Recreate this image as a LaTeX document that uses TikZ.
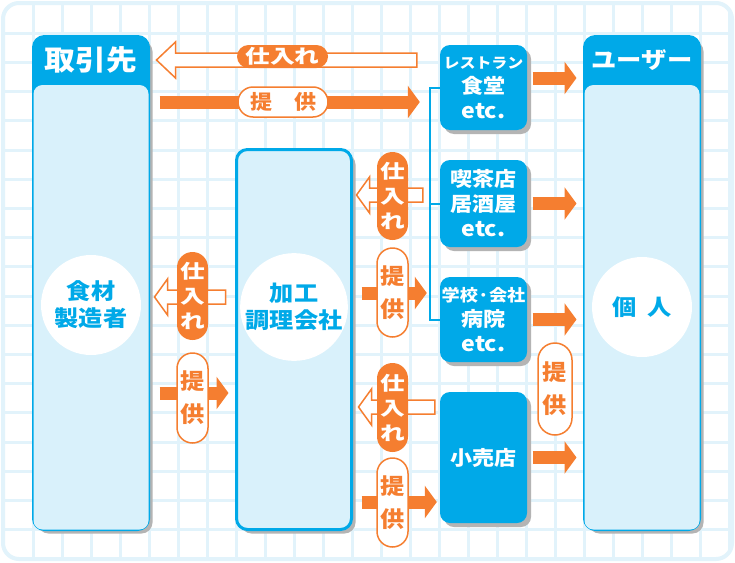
\documentclass[tikz,border=0pt]{standalone}
\usepackage{fontspec}
\setmainfont{Noto Sans CJK JP}[FakeStretch=1.1]
\newfontfamily\widefont{Noto Sans CJK JP}[FakeStretch=1.3]
\usetikzlibrary{arrows.meta,calc,positioning,shadows}

\definecolor{tblue}{RGB}{0,169,232}
\definecolor{pale}{RGB}{217,241,251}
\definecolor{orng}{RGB}{245,126,48}
\definecolor{gridblue}{RGB}{226,243,251}
\definecolor{shade}{RGB}{180,180,180}

\tikzset{
  gridline/.style={draw=gridblue, line width=3pt},
  shadowed/.style={drop shadow={shadow xshift=4pt, shadow yshift=-4pt, fill=shade, opacity=1}},
  column/.style={shadowed, draw=tblue, line width=3pt, rounded corners=11pt, minimum width=115pt, inner sep=0pt},
  heading/.style={text=white, font=\bfseries\fontsize{28}{30}\selectfont},
  hub/.style={circle, fill=white, minimum size=100pt, inner sep=0pt, align=center, text=tblue, font=\bfseries\fontsize{22}{27}\selectfont},
  shop/.style={shadowed, fill=tblue, rounded corners=10pt, minimum width=87pt, inner sep=0pt, align=center, text=white, font=\bfseries\fontsize{20}{25}\selectfont},
  link/.style={draw=tblue, line width=2pt},
  give/.style={draw=orng, line width=13pt, -{Triangle[length=12pt, width=32pt]}},
  back/.style={draw=orng, fill=white, line width=1.5pt,
    to path={let \p1=(\tikztostart), \p2=(\tikztotarget) in
      (\x1,\y1+7pt) -- (\x2+#1pt,\y1+7pt) -- (\x2+#1pt,\y1+18pt) -- (\x2,\y1)
      -- (\x2+#1pt,\y1-18pt) -- (\x2+#1pt,\y1-7pt) -- (\x1,\y1-7pt) -- cycle}},
  back/.default=13,
  buy/.style={fill=orng, text=white, inner sep=0pt, font=\widefont\bfseries\fontsize{19}{25}\selectfont},
  sell/.style={draw=orng, fill=white, line width=1.5pt, text=orng, inner sep=0pt, font=\bfseries\fontsize{22}{33}\selectfont},
  upright/.style={minimum width=31pt, minimum height=88pt, rounded corners=15.5pt, align=center},
}

\begin{document}
\begin{tikzpicture}[x=1pt,y=-1pt]
  \useasboundingbox[fill=white] (0,0) rectangle (735,562);

  % background grid
  \begin{scope}
    \clip[rounded corners=16pt] (3,3) rectangle (732,559);
    \foreach \k in {1,...,25}
      \draw[gridline] (4+29*\k,0) -- (4+29*\k,562);
    \foreach \k in {1,...,19}
      \draw[gridline] (0,4+29.2*\k) -- (735,4+29.2*\k);
  \end{scope}
  \draw[gridblue, line width=4pt, rounded corners=16pt] (3,3) rectangle (732,559);

  % columns
  \node[column, fill=tblue, minimum height=493pt] (src) at (91,283) {};
  \fill[pale, rounded corners=9pt] ($(src.south west)+(1.5,-1.5)$) rectangle ($(src.north east |- 0,85)+(-1.5,0)$);
  \node[heading] at ($(src.north)+(0,25)$) {取引先};

  \node[column, fill=pale, minimum height=380pt] (proc) at (294,339.5) {};

  \node[column, fill=tblue, minimum height=493pt] (user) at (642,283) {};
  \fill[pale, rounded corners=9pt] ($(user.south west)+(1.5,-1.5)$) rectangle ($(user.north east |- 0,85)+(-1.5,0)$);
  \node[heading, font=\bfseries\fontsize{23}{30}\selectfont] at ($(user.north)+(0,25)$) {ユーザー};

  \node[hub] (maker) at (91,305) {食材\\製造者};
  \node[hub] (cook) at (294,307) {加工\\調理会社};
  \node[hub] (person) at (642,307) {個\enspace 人};

  % shops
  \node[shop, minimum height=85pt] (r1) at (483.5,87.5) {{\fontsize{14.5}{22}\selectfont レストラン}\\食堂\\{\fontsize{21}{25}\selectfont etc.}};
  \node[shop, minimum height=87pt] (r2) at (483.5,203.5) {喫茶店\\居酒屋\\{\fontsize{21}{25}\selectfont etc.}};
  \node[shop, minimum height=85pt] (r3) at (483.5,319.5) {{\fontsize{16.5}{24}\selectfont 学校·会社}\\病院\\{\fontsize{21}{25}\selectfont etc.}};
  \node[shop, minimum height=131pt] (r4) at (483.5,457.5) {小売店};

  \draw[link] (r1.west) -- ++(-10,0) |- (r3.west);
  \draw[link] (r2.west) -- ++(-10,0);

  % arrows
  \draw[back=19] ($(r1.west |- 0,60)+(-23,0)$) to ($(src.east |- 0,60)+(6.5,0)$);
  \draw[give, shorten <=9.5pt, shorten >=20pt] (src.east |- 0,102) -- (r1.west |- 0,102);

  \draw[back] ($(proc.west |- 0,297)+(-9.5,0)$) to ($(src.east |- 0,297)+(4.5,0)$);
  \draw[give, shorten <=9.5pt, shorten >=6.5pt] (src.east |- 0,393) -- (proc.west |- 0,393);

  \draw[back] ($(r2.west |- 0,195)+(-17,0)$) to ($(proc.east |- 0,195)+(3.5,0)$);
  \draw[give, shorten <=8.5pt, shorten >=13pt] (proc.east |- 0,293) -- (r3.west |- 0,293);
  \draw[back] ($(r4.west |- 0,407)+(-5,0)$) to ($(proc.east |- 0,407)+(5.5,0)$);
  \draw[give, shorten <=8.5pt, shorten >=3pt] (proc.east |- 0,502) -- (r4.west |- 0,502);

  \draw[give, shorten <=5.5pt, shorten >=6.5pt] (r1.east |- 0,78) -- (user.west |- 0,78);
  \draw[give, shorten <=5.5pt, shorten >=6.5pt] (r2.east) -- (user.west |- r2.east);
  \draw[give, shorten <=5.5pt, shorten >=6.5pt] (r3.east) -- (user.west |- r3.east);
  \draw[give, shorten <=5.5pt, shorten >=6.5pt] (r4.east) -- (user.west |- r4.east);

  % labels
  \node[buy, minimum width=91pt, minimum height=23pt, rounded corners=11.5pt] (b1) at (282.5,56.5) {仕入れ};
  \node[sell, minimum width=90pt, minimum height=30pt, rounded corners=15pt, font=\bfseries\fontsize{20}{25}\selectfont] (s1) at (283,102) {提　供};
  \node[buy, upright] (b2) at (192.5,296) {仕\\入\\れ};
  \node[sell, upright, minimum height=90pt] (s2) at (192.5,398) {提\\供};
  \node[buy, upright] (b3) at (392.5,196) {仕\\入\\れ};
  \node[sell, upright, minimum height=89pt] (s3) at (392.5,292.5) {提\\供};
  \node[buy, upright, minimum height=89pt] (b4) at (392.5,407.5) {仕\\入\\れ};
  \node[sell, upright, minimum height=89pt] (s4) at (392.5,502.5) {提\\供};
  \node[sell, upright, minimum width=34pt, minimum height=92pt, rounded corners=17pt] (s5) at (555,389) {提\\供};
\end{tikzpicture}
\end{document}
